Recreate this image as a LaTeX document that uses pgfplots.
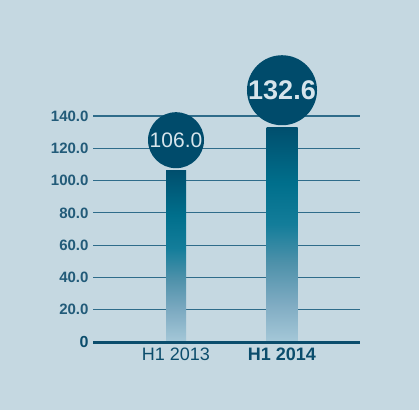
\documentclass[border=0pt]{standalone}
\usepackage{fontspec}
\setmainfont{Liberation Sans}
\usepackage{pgfplots}
\pgfplotsset{compat=1.18}
\definecolor{bg}{HTML}{C5D8E1}
\definecolor{gridc}{HTML}{2F6C8A}
\definecolor{base}{HTML}{0B4D6C}
\definecolor{tickc}{HTML}{225B79}
\definecolor{circ}{HTML}{004B6B}
\definecolor{circtext}{HTML}{D6E5EC}
\definecolor{c0}{HTML}{A5C8D8}
\definecolor{c1}{HTML}{7EABC2}
\definecolor{c2}{HTML}{4E91AA}
\definecolor{c3}{HTML}{137D9A}
\definecolor{c4}{HTML}{006F8C}
\definecolor{c5}{HTML}{004F6E}
\pgfdeclareverticalshading{barshade}{100bp}{color(0bp)=(c0); color(25bp)=(c0); color(34bp)=(c1); color(43.5bp)=(c2); color(52.5bp)=(c3); color(62bp)=(c4); color(75bp)=(c5); color(100bp)=(c5)}
\begin{document}
\begin{tikzpicture}
\fill[bg] (0,0) rectangle (419pt,410pt);
\useasboundingbox (0,0) rectangle (419pt,410pt);
\begin{axis}[
  at={(93pt,68pt)}, anchor=south west,
  scale only axis, width=267pt, height=226pt,
  xmin=93, xmax=360, ymin=0, ymax=140,
  clip=false,
  /pgf/number format/assume math mode=true,
  axis line style={draw=none},
  major tick length=0pt,
  ytick={20,40,...,140},
  yticklabel={\pgfmathprintnumber[fixed,fixed zerofill,precision=1,assume math mode=true]{\tick}},
  yticklabel style={font=\fontsize{15}{18}\selectfont\bfseries, text=tickc, xshift=-1pt},
  ymajorgrids,
  grid style={draw=gridc, line width=1.1pt},
  extra y ticks={0},
  extra y tick labels={0},
  extra y tick style={yticklabel style={font=\fontsize{16}{18}\selectfont\bfseries, text=base}, grid=none},
  xtick={176,282},
  xticklabels={H1 2013, \textbf{H1 2014}},
  xticklabel style={font=\fontsize{18}{20}\selectfont, text=base, yshift=-2pt},
  nodes near coords={\pgfmathprintnumber[fixed,fixed zerofill,precision=1,assume math mode=true]{\pgfplotspointmeta}},
]
\addplot[ybar, bar width=20pt, bar shift=0pt, draw=none, shade, shading=barshade,
  every node near coord/.style={circle, fill=circ, text=circtext, inner sep=0pt, minimum size=56pt, anchor=south, yshift=2.5pt, font=\fontsize{21}{24}\selectfont}]
  coordinates {(176,106.0)};
\addplot[ybar, bar width=31pt, bar shift=0pt, draw=none, shade, shading=barshade,
  every node near coord/.style={circle, fill=circ, text=circtext, inner sep=0pt, minimum size=69pt, anchor=south, yshift=2.5pt, font=\fontsize{27}{30}\selectfont\bfseries}]
  coordinates {(282,132.6)};
\draw[base, line width=3pt] (axis cs:93,0) -- (axis cs:360,0);
\end{axis}
\end{tikzpicture}
\end{document}
